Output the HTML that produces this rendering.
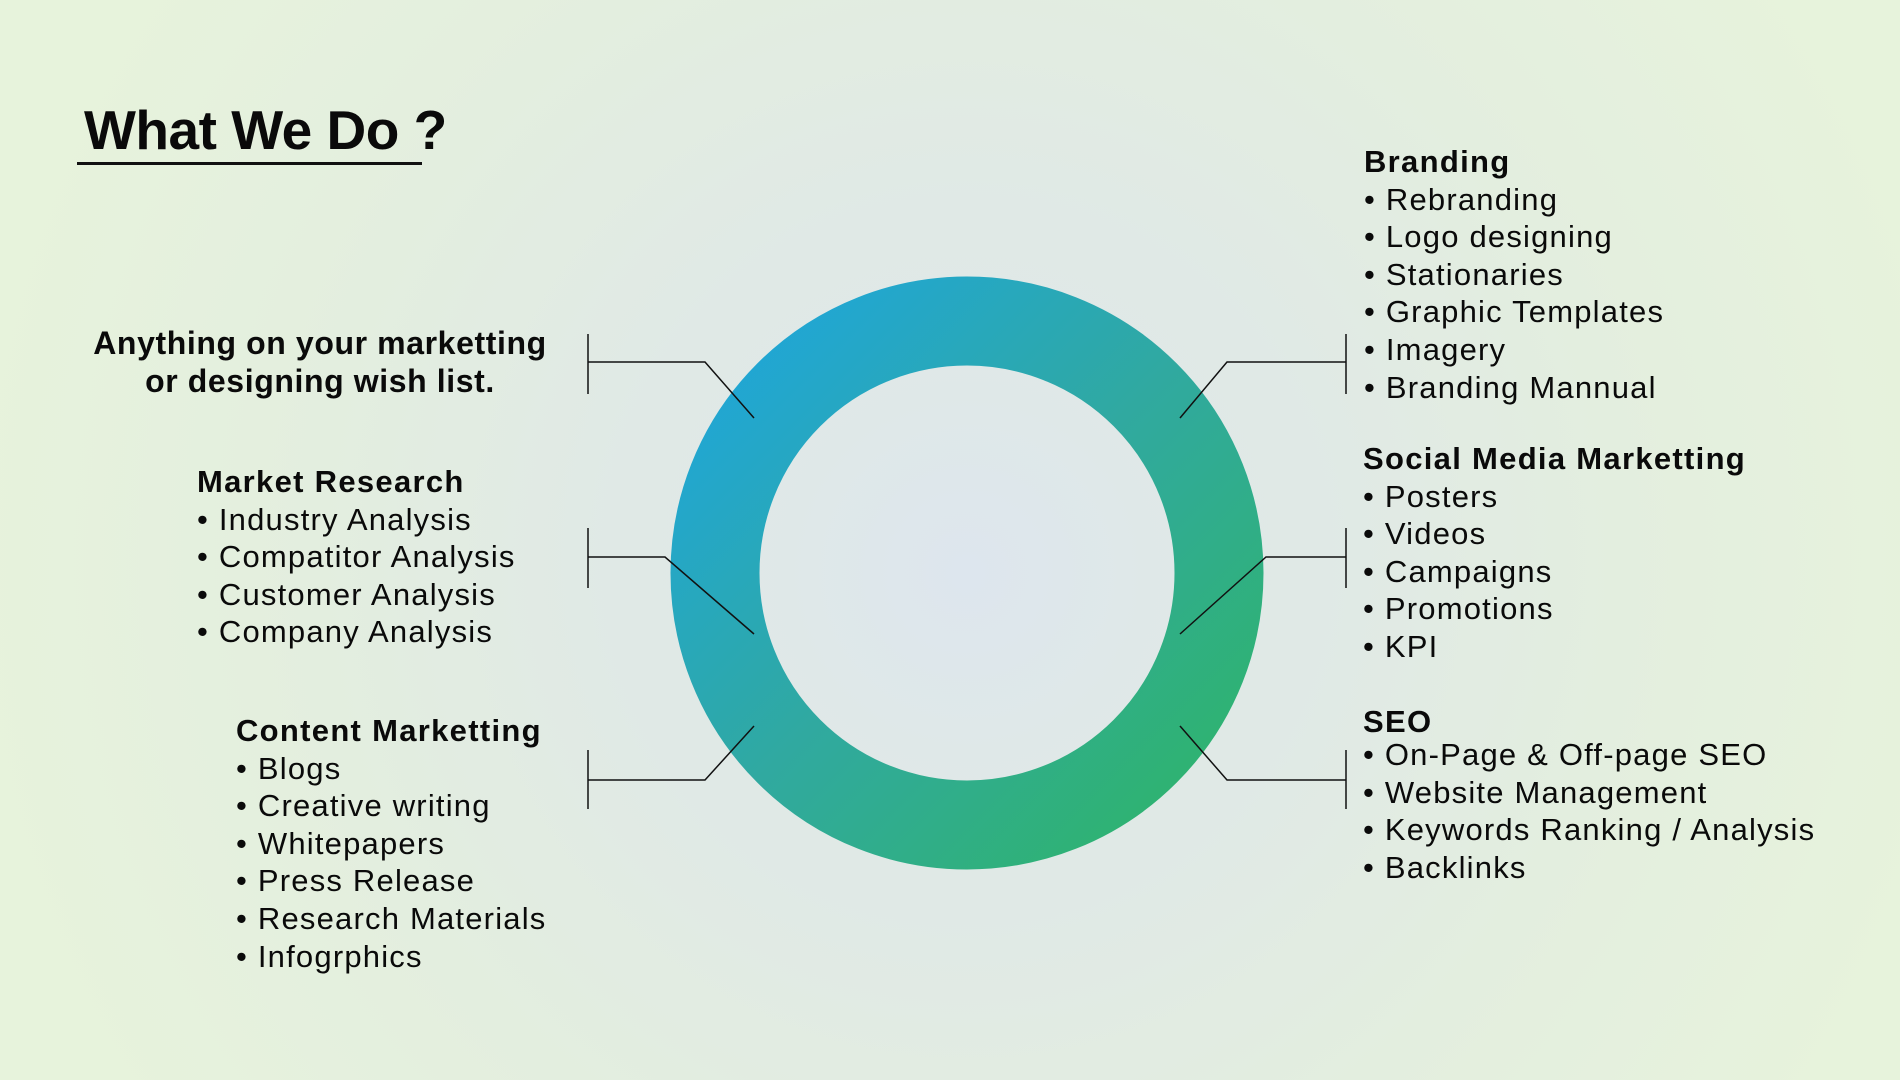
<!DOCTYPE html>
<html><head><meta charset="utf-8"><style>
html,body{margin:0;padding:0}
body{width:1900px;height:1080px;position:relative;overflow:hidden;
background:radial-gradient(circle at 967px 560px,#dde7ea 0px,#e0e9e6 350px,#e3eedf 650px,#e7f3dc 1000px);
font-family:"Liberation Sans",sans-serif;color:#0a0a0a}
.t{position:absolute;left:84px;top:98px;font-size:55px;font-weight:bold;letter-spacing:-0.5px}
.u{position:absolute;left:77px;top:162px;width:345px;height:3px;background:#111}
.a{position:absolute;left:40px;width:560px;text-align:center;top:324px;font-size:32px;font-weight:bold;line-height:38px;letter-spacing:0.6px}
.b{position:absolute;font-size:31px;line-height:37.6px;white-space:nowrap;letter-spacing:1.2px}
.b b{font-size:31px;letter-spacing:1.3px}
svg{position:absolute;left:0;top:0}
</style></head><body>
<svg width="1900" height="1080">
<defs><linearGradient id="g" x1="0" y1="0" x2="1" y2="1">
<stop offset="0" stop-color="#1ea6dc"/><stop offset="0.5" stop-color="#30a9a0"/><stop offset="1" stop-color="#2fb46a"/></linearGradient>
<radialGradient id="c"><stop offset="0" stop-color="#dde6ee"/><stop offset="1" stop-color="#e0e9e6"/></radialGradient></defs>
<circle cx="967" cy="573" r="252" fill="url(#c)" stroke="url(#g)" stroke-width="89"/>
<g stroke="#111" stroke-width="1.5" fill="none">
<path d="M588 334V394M588 362H705L754 418"/>
<path d="M588 528V588M588 557H665L754 634"/>
<path d="M588 750V809M588 780H705L754 726"/>
<path d="M1346 334V394M1346 362H1227L1180 418"/>
<path d="M1346 528V588M1346 557H1266L1180 634"/>
<path d="M1346 750V809M1346 780H1227L1180 726"/>
</g></svg>
<div class="t">What We Do ?</div><div class="u"></div>
<div class="a">Anything on your marketting<br>or designing wish list.</div>
<div class="b" style="left:197px;top:463px"><b>Market Research</b><br>• Industry Analysis<br>• Compatitor Analysis<br>• Customer Analysis<br>• Company Analysis</div>
<div class="b" style="left:236px;top:712px"><b>Content Marketting</b><br>• Blogs<br>• Creative writing<br>• Whitepapers<br>• Press Release<br>• Research Materials<br>• Infogrphics</div>
<div class="b" style="left:1364px;top:143px"><b>Branding</b><br>• Rebranding<br>• Logo designing<br>• Stationaries<br>• Graphic Templates<br>• Imagery<br>• Branding Mannual</div>
<div class="b" style="left:1363px;top:440px"><b>Social Media Marketting</b><br>• Posters<br>• Videos<br>• Campaigns<br>• Promotions<br>• KPI</div>
<div class="b" style="left:1363px;top:703px"><b>SEO</b></div>
<div class="b" style="left:1363px;top:736px">• On-Page &amp; Off-page SEO<br>• Website Management<br>• Keywords Ranking / Analysis<br>• Backlinks</div>
</body></html>
